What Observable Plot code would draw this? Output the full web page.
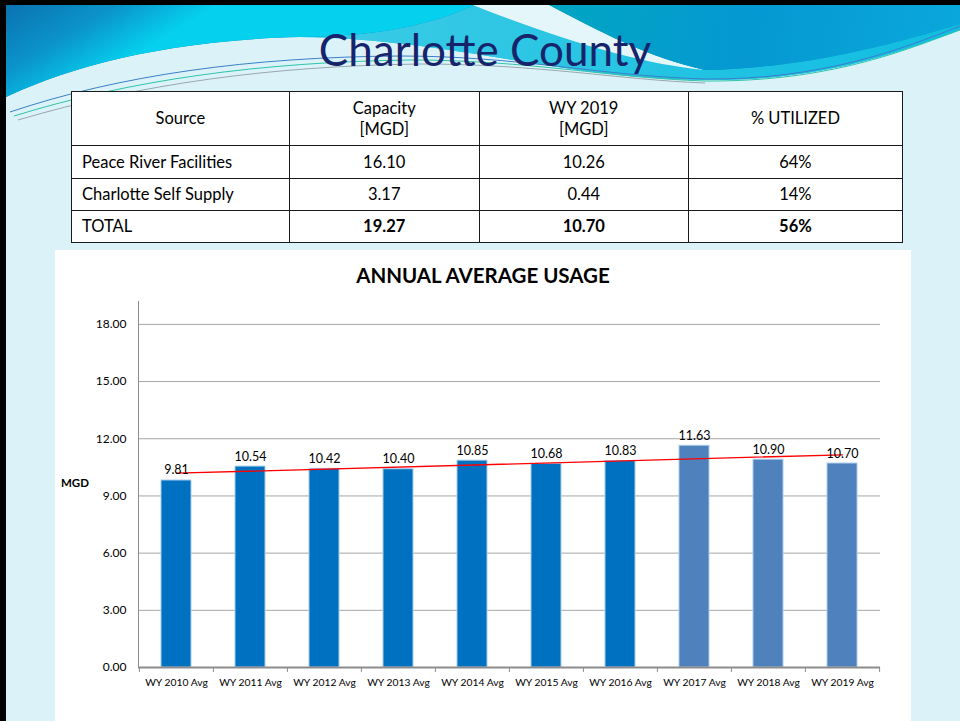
<!DOCTYPE html>
<html>
<head>
<meta charset="utf-8">
<script src="https://cdn.jsdelivr.net/npm/d3@7"></script>
<script src="https://cdn.jsdelivr.net/npm/@observablehq/plot@0.6"></script>
<style>
  html, body { margin: 0; padding: 0; }
  body { width: 960px; height: 721px; overflow: hidden; background: #dbf3f8; font-family: Lato, "Liberation Sans", sans-serif; }
  #page { position: relative; width: 960px; height: 721px; overflow: hidden; background: #dbf3f8; }
  #deco { position: absolute; left: 0; top: 0; }
  #title { position: absolute; left: 0; width: 970px; top: 27px; text-align: center; font-size: 44px; line-height: 1; color: #17246b; }
  #tbl { position: absolute; left: 71px; top: 91px; width: 832px; height: 151px; border-collapse: collapse; background: #fff; font-size: 16.5px; color: #000; }
  #tbl td { border: 1.5px solid #1a1a1a; padding: 0 10px; text-align: center; line-height: 1.25; }
  #tbl td.first { text-align: left; }
  #tbl tr.hdr td.first { text-align: center; }
  #tbl tr.total td.num { font-weight: bold; }
  #chartbox { position: absolute; left: 55px; top: 250px; width: 856px; height: 471px; background: #fff; }
  #ctitle { position: absolute; left: 0; width: 856px; top: 12px; height: 26px; line-height: 26px; text-align: center; font-weight: bold; font-size: 20.5px; color: #000; }
  #chart { position: absolute; left: 0; top: 40px; }
  #mgd { position: absolute; left: 6px; top: 226px; font-weight: bold; font-size: 11.5px; color: #000; }
</style>
</head>
<body>
<div id="page">
  <svg id="deco" width="960" height="130" viewBox="0 0 960 130">
    <defs>
      <linearGradient id="decoGradLeft" gradientUnits="userSpaceOnUse" x1="0" y1="0" x2="60" y2="100">
        <stop offset="0" stop-color="#0a6fae"/>
        <stop offset="0.55" stop-color="#0b93c9"/>
        <stop offset="1" stop-color="#05d0ee"/>
      </linearGradient>
      <linearGradient id="decoGradRight" gradientUnits="userSpaceOnUse" x1="540" y1="0" x2="960" y2="60">
        <stop offset="0" stop-color="#00a6c0"/>
        <stop offset="0.5" stop-color="#0598d2"/>
        <stop offset="1" stop-color="#0aa8dc"/>
      </linearGradient>
      <linearGradient id="decoGradCyan" gradientUnits="userSpaceOnUse" x1="300" y1="0" x2="960" y2="0">
        <stop offset="0" stop-color="#3ccbe6"/>
        <stop offset="1" stop-color="#10bde0"/>
      </linearGradient>
    </defs>
    <path d="M300,37 C450,39 560,78 700,80 C820,82 900,52 960,30 L960,0 L480,0 Z" fill="#22c4e3"/>
    <path d="M300,37 C450,39 560,78 700,80 C820,82 900,52 960,30 L960,0 L480,0 Z" fill="url(#decoGradCyan)"/>
    <path d="M460,0 L540,0 C600,32 650,58 705,70 C640,64 560,40 460,0 Z" fill="#e4f6fa"/>
    <path d="M540,0 L960,0 L960,24 C880,48 800,68 705,70 C650,58 600,32 540,0 Z" fill="#049fcc"/>
    <path d="M540,0 L960,0 L960,24 C880,48 800,68 705,70 C650,58 600,32 540,0 Z" fill="url(#decoGradRight)"/>
    <path d="M0,0 L485,0 C440,22 390,36 300,37 C160,40 60,70 0,100 Z" fill="#0a84bf"/>
    <path d="M0,0 L485,0 C440,22 390,36 300,37 C160,40 60,70 0,100 Z" fill="url(#decoGradLeft)"/>
    <path d="M10,112 C120,75 250,57 400,56 C520,56 600,76 705,79 C820,80 900,50 960,26" fill="none" stroke="#3b7fc9" stroke-width="1"/>
    <path d="M14,116 C130,80 260,62 410,60 C530,60 610,78 705,81 C830,82 905,50 960,30" fill="none" stroke="#2ec4a8" stroke-width="1"/>
    <path d="M18,120 C140,84 270,66 420,64 C540,64 620,80 705,83" fill="none" stroke="#9aa6b0" stroke-width="1"/>
    <rect x="0" y="0" width="960" height="5" fill="#000"/>
  </svg>
  <div style="position:absolute;left:0;top:0;width:6px;height:721px;background:#000"></div>
  <div id="title">Charlotte County</div>
  <table id="tbl"></table>
  <div id="chartbox">
    <div id="ctitle">ANNUAL AVERAGE USAGE</div>
    <div id="chart"></div>
    <div id="mgd">MGD</div>
  </div>
</div>
<script>
// ---- Table data ----
const tableHeader = ["Source", "Capacity<br>[MGD]", "WY 2019<br>[MGD]", "% UTILIZED"];
const tableSources = ["Peace River Facilities", "Charlotte Self Supply", "TOTAL"];
const tableCapacity = ["16.10", "3.17", "19.27"];
const tableWY2019 = ["10.26", "0.44", "10.70"];
const tableUtilized = ["64%", "14%", "56%"];

// ---- Chart data ----
const categories = ["WY 2010 Avg", "WY 2011 Avg", "WY 2012 Avg", "WY 2013 Avg", "WY 2014 Avg",
                    "WY 2015 Avg", "WY 2016 Avg", "WY 2017 Avg", "WY 2018 Avg", "WY 2019 Avg"];
const usage = [9.81, 10.54, 10.42, 10.40, 10.85, 10.68, 10.83, 11.63, 10.90, 10.70];
const barColors = ["#0070c0", "#0070c0", "#0070c0", "#0070c0", "#0070c0", "#0070c0", "#0070c0",
                   "#4f81bd", "#4f81bd", "#4f81bd"];
const yTicks = [0, 3, 6, 9, 12, 15, 18];
const yMax = 19.2;

// build table
const tbl = document.getElementById("tbl");
const rowHeights = [54, 33, 32, 32];
const colWidths = [219, 187, 212, 214];
let html = `<tr class="hdr" style="height:${rowHeights[0]}px">` +
  tableHeader.map((h, j) => `<td class="${j === 0 ? "first" : ""}" style="width:${colWidths[j]}px">${h}</td>`).join("") + "</tr>";
tableSources.forEach((s, i) => {
  html += `<tr class="${i === tableSources.length - 1 ? "total" : ""}" style="height:${rowHeights[i + 1]}px">` +
    `<td class="first">${s}</td><td class="num">${tableCapacity[i]}</td><td class="num">${tableWY2019[i]}</td><td class="num">${tableUtilized[i]}</td></tr>`;
});
tbl.innerHTML = html;

// chart
const data = categories.map((c, i) => ({cat: c, v: usage[i], color: barColors[i]}));
// linear trend line (least squares on category index)
const n = usage.length;
const mx = (n - 1) / 2, my = d3.mean(usage);
const slope = d3.sum(usage, (v, i) => (i - mx) * (v - my)) / d3.sum(usage, (v, i) => (i - mx) ** 2);
const trend = [0, n - 1].map(i => ({cat: categories[i], v: my + slope * (i - mx)}));

const W = 856, H = 431, ML = 83, MR = 31, MT = 11, MB = 54;
const step = (W - ML - MR) / categories.length;

const chart = Plot.plot({
  width: W, height: H,
  marginLeft: ML, marginRight: MR, marginTop: MT, marginBottom: MB,
  style: {fontFamily: "Lato, 'Liberation Sans', sans-serif", background: "transparent", overflow: "visible", color: "#000"},
  x: {domain: categories, paddingInner: 0.6, paddingOuter: 0.3, label: null},
  y: {domain: [0, yMax], label: null},
  color: {type: "identity"},
  marks: [
    Plot.ruleY(yTicks.filter(t => t > 0), {stroke: "#a6a6a6", strokeWidth: 1}),
    Plot.frame({anchor: "left", stroke: "#8c8c8c"}),
    Plot.barY(data, {x: "cat", y: "v", fill: "color", stroke: "#a9cbea", strokeWidth: 1}),
    Plot.line(trend, {x: "cat", y: "v", stroke: "#ff0000", strokeWidth: 1.3}),
    Plot.text(data, {x: "cat", y: "v", text: d => d.v.toFixed(2), dy: -6, lineAnchor: "bottom", fontSize: 12.5, fill: "#000"}),
    Plot.ruleY([0], {stroke: "#8c8c8c", strokeWidth: 2}),
    Plot.ruleX(categories, {x: d => d, dx: -step / 2, y1: 0, y2: -0.26, stroke: "#8c8c8c"}),
    Plot.ruleX(categories.slice(-1), {x: d => d, dx: step / 2, y1: 0, y2: -0.26, stroke: "#8c8c8c"}),
    Plot.axisY({ticks: yTicks, tickFormat: d3.format(".2f"), tickSize: 0, tickPadding: 12, fontSize: 12, label: null}),
    Plot.axisX({tickSize: 0, tickPadding: 11, fontSize: 10.3, label: null})
  ]
});
document.getElementById("chart").appendChild(chart);
</script>
</body>
</html>
